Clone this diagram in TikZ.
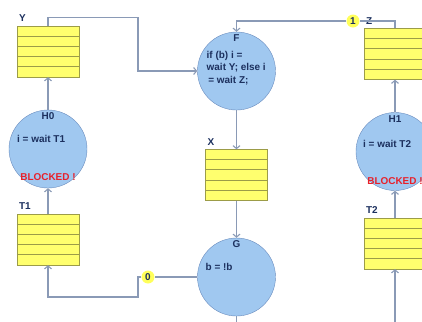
\documentclass[tikz,border=0pt]{standalone}
\usepackage{fontspec}
\setmainfont{Liberation Sans}
\usetikzlibrary{positioning,calc,arrows.meta}
\definecolor{procfill}{HTML}{A0C8F0}
\definecolor{procline}{HTML}{6A8CBE}
\definecolor{queuefill}{HTML}{FFFF6E}
\definecolor{queueline}{HTML}{9C9C48}
\definecolor{connline}{HTML}{8A9AB6}
\definecolor{textcol}{HTML}{1C305E}
\definecolor{blockred}{HTML}{E8202A}
\definecolor{badgefill}{HTML}{FFFF5A}
\begin{document}
\begin{tikzpicture}[
  x=1bp,
  y=-1bp,
  font=\fontsize{10}{12.5}\selectfont\bfseries,
  proc/.style={circle,draw=procline,fill=procfill,minimum size=78bp,inner sep=0pt},
  queue/.style={rectangle,draw=queueline,fill=queuefill,minimum width=62bp,minimum height=51bp,inner sep=0pt,
    path picture={\foreach \k in {1,...,4}
      \draw[queueline,line width=1pt] ($(path picture bounding box.north west)!\k/5!(path picture bounding box.south west)$)
        -- ($(path picture bounding box.north east)!\k/5!(path picture bounding box.south east)$);}},
  tag/.style={text=textcol,inner sep=0pt},
  code/.style={text=textcol,inner sep=0pt,anchor=west},
  blocked/.style={text=blockred,inner sep=0pt},
  badge/.style={circle,fill=badgefill,text=textcol,inner sep=0pt,minimum size=13bp},
  conn/.style={draw=connline,line width=1.1pt},
  flow/.style={conn,-{Straight Barb[length=3bp,width=7bp]}}
]
  \useasboundingbox (0,0) rectangle (422,322);
  \clip (0,0) rectangle (422,322);

  % left column
  \node[queue] (Y) at (48,51.5) {};
  \node[tag,above right=4bp and 2bp of Y.north west] {Y};
  \node[proc] (H0) at (48,149) {};
  \node[tag,below=3bp of H0.north] {H0};
  \node[code] at ($(H0.center)+(-31bp,10bp)$) {i = wait T1};
  \node[blocked] at ($(H0.center)+(0bp,-28bp)$) {BLOCKED !};
  \node[queue] (T1) at (48,239.5) {};
  \node[tag,above right=4bp and 2bp of T1.north west] {T1};

  % middle column
  \node[proc] (F) at (236.5,71) {};
  \node[tag,below=3bp of F.north] {F};
  \node[code,anchor=north west,align=left] at ($(F.center)+(-30bp,20bp)$) {if (b) i =\\wait Y; else i\\\,= wait Z;};
  \node[queue] (X) at (236.5,175) {};
  \node[tag,above right=4bp and 2bp of X.north west] {X};
  \node[proc] (G) at (236.5,277) {};
  \node[tag,below=3bp of G.north] {G};
  \node[code] at ($(G.center)+(-31bp,10bp)$) {b = !b};

  % right column
  \node[queue] (Z) at (395,54) {};
  \node[tag,above right=4bp and 2bp of Z.north west] {Z};
  \node[proc] (H1) at (395,151.5) {};
  \node[tag,below=3bp of H1.north] {H1};
  \node[code] at ($(H1.center)+(-32bp,8bp)$) {i = wait T2};
  \node[blocked] at ($(H1.center)+(0bp,-30bp)$) {BLOCKED !};
  \node[queue] (T2) at (395,243.5) {};
  \node[tag,above right=4bp and 2bp of T2.north west] {T2};

  \node[badge] (one) at (353,21) {1};
  \node[badge] (zero) at (148,277) {0};
  \coordinate (ybend) at (138,71);
  \coordinate (zbend) at (138,297);
  \coordinate (gout) at (236.5,322);
  \coordinate (t2in) at (395,322);

  \draw[flow] (Y.north) -- ++(0bp,8bp) -| (ybend) -- (F);
  \draw[flow] (H0) -- (Y);
  \draw[flow] (T1) -- (H0);
  \draw[flow] (F) -- (X);
  \draw[flow] (X) -- (G);
  \draw[conn] (G) -- (gout);
  \draw[conn] (G) -- (zero);
  \draw[flow] (zero.west) -| (zbend) -| (T1.south);
  \draw[conn] (Z.north) |- (one);
  \draw[flow] (one) -| (F);
  \draw[flow] (H1) -- (Z);
  \draw[flow] (T2) -- (H1);
  \draw[flow] (t2in) -- (T2);
\end{tikzpicture}
\end{document}
